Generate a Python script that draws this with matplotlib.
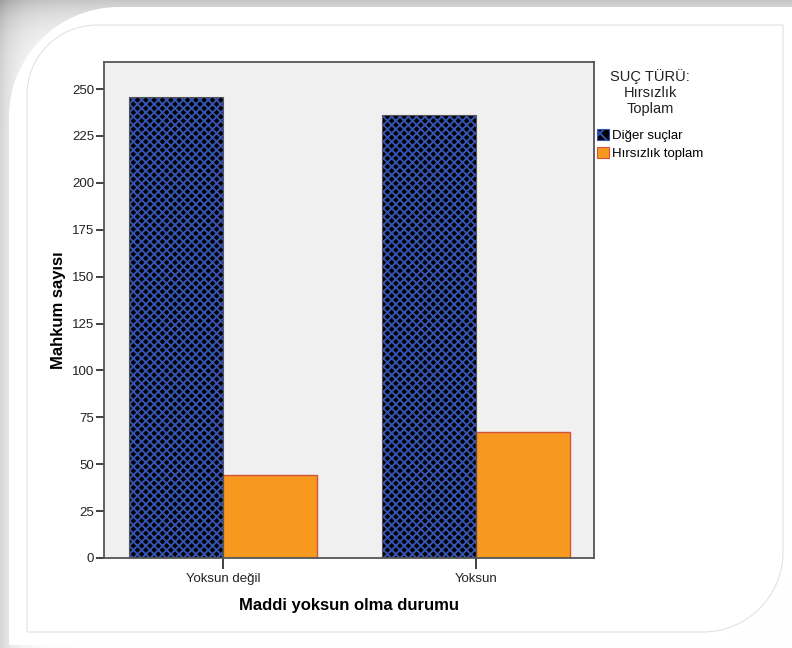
import numpy as np
import matplotlib
matplotlib.use("Agg")
import matplotlib.pyplot as plt
from matplotlib.path import Path
from matplotlib.patches import PathPatch, Patch

categories = ["Yoksun değil", "Yoksun"]
series_names = ["Diğer suçlar", "Hırsızlık toplam"]
diger = [246, 236]
hirsizlik = [44, 67]
yticks = [0, 25, 50, 75, 100, 125, 150, 175, 200, 225, 250]
legend_title = "SUÇ TÜRÜ:\nHırsızlık\nToplam"

plt.rcParams['font.family'] = ['Liberation Sans', 'DejaVu Sans']
plt.rcParams['hatch.linewidth'] = 1.4

W, H = 792, 648
fig = plt.figure(figsize=(W / 100, H / 100), dpi=100)
fig.patch.set_facecolor('white')

# decorative background (grey gradient + white rounded panel)
bg = fig.add_axes([0, 0, 1, 1], zorder=-10)
yy, xx = np.mgrid[0:H, 0:W]
shade = 1 - 0.22 * np.exp(-yy / 25.0) - 0.16 * np.exp(-xx / 18.0)
shade = np.clip(shade, 0, 1)
bg.imshow(np.dstack([shade, shade, shade]), extent=[0, W, H, 0], aspect='auto')
bg.set_xlim(0, W)
bg.set_ylim(H, 0)
bg.axis('off')

def rounded_panel(x0, y0, x1, y1, r_tl, r_br):
    k = 0.5523
    verts = [
        (x0, y0 + r_tl),
        (x0, y0 + r_tl * (1 - k)), (x0 + r_tl * (1 - k), y0), (x0 + r_tl, y0),
        (x1, y0),
        (x1, y1 - r_br),
        (x1, y1 - r_br * (1 - k)), (x1 - r_br * (1 - k), y1), (x1 - r_br, y1),
        (x0, y1),
        (x0, y0 + r_tl),
    ]
    codes = [Path.MOVETO, Path.CURVE4, Path.CURVE4, Path.CURVE4, Path.LINETO,
             Path.LINETO, Path.CURVE4, Path.CURVE4, Path.CURVE4, Path.LINETO,
             Path.CLOSEPOLY]
    return Path(verts, codes)

bg.add_patch(PathPatch(rounded_panel(9, 7, 800, 645, 110, 110),
                       facecolor='white', edgecolor='none'))
bg.add_patch(PathPatch(rounded_panel(27, 25, 783, 632, 70, 80),
                       facecolor='none', edgecolor='#e2e2e2', lw=0.8))

ax = fig.add_axes([104 / W, 1 - 558 / H, 490 / W, 496 / H])
ax.set_facecolor('#f0f0f0')

x = np.arange(len(categories))
bw = 0.3715
ax.bar(x - bw / 2, diger, bw, facecolor='black', edgecolor='#3553b0',
       hatch='xxxx', linewidth=0, zorder=2)
ax.bar(x - bw / 2, diger, bw, fill=False, edgecolor='#555555',
       linewidth=0.8, zorder=3)
ax.bar(x + bw / 2, hirsizlik, bw, facecolor='#f7981f', edgecolor='#d4533c',
       linewidth=1.0, zorder=2)

ax.set_xlim(-0.470, 1.466)
ax.set_ylim(0, 264.4)
ax.set_yticks(yticks)
ax.set_xticks(x)
ax.set_xticklabels(categories)
ax.tick_params(axis='y', direction='out', length=6, width=1.3, color='#333333',
               labelsize=9.5, pad=1, labelcolor='#222222')
ax.tick_params(axis='x', direction='out', length=8, width=1.3, color='#333333',
               labelsize=9.5, pad=3, labelcolor='#222222')
for s in ax.spines.values():
    s.set_color('#555555')
    s.set_linewidth(1.3)

ax.set_ylabel("Mahkum sayısı", fontsize=12, fontweight='bold', labelpad=4)
ax.set_xlabel("Maddi yoksun olma durumu", fontsize=12, fontweight='bold', labelpad=9)

fig.text(650 / W, 1 - 69 / H, legend_title, ha='center', va='top',
         multialignment='center', fontsize=10.5, linespacing=1.2,
         color='#222222')

handles = [Patch(facecolor='black', edgecolor='#3553b0', hatch='xx', linewidth=0.8),
           Patch(facecolor='#f7981f', edgecolor='#d4533c', linewidth=0.8)]
leg = fig.legend(handles, series_names, loc='upper left',
                 bbox_to_anchor=(588 / W, 1 - 120 / H), frameon=False,
                 fontsize=9.5, handlelength=0.9, handleheight=0.9,
                 handletextpad=0.2, labelspacing=0.35, borderpad=0.2)

fig.savefig("out.png", dpi=100)
